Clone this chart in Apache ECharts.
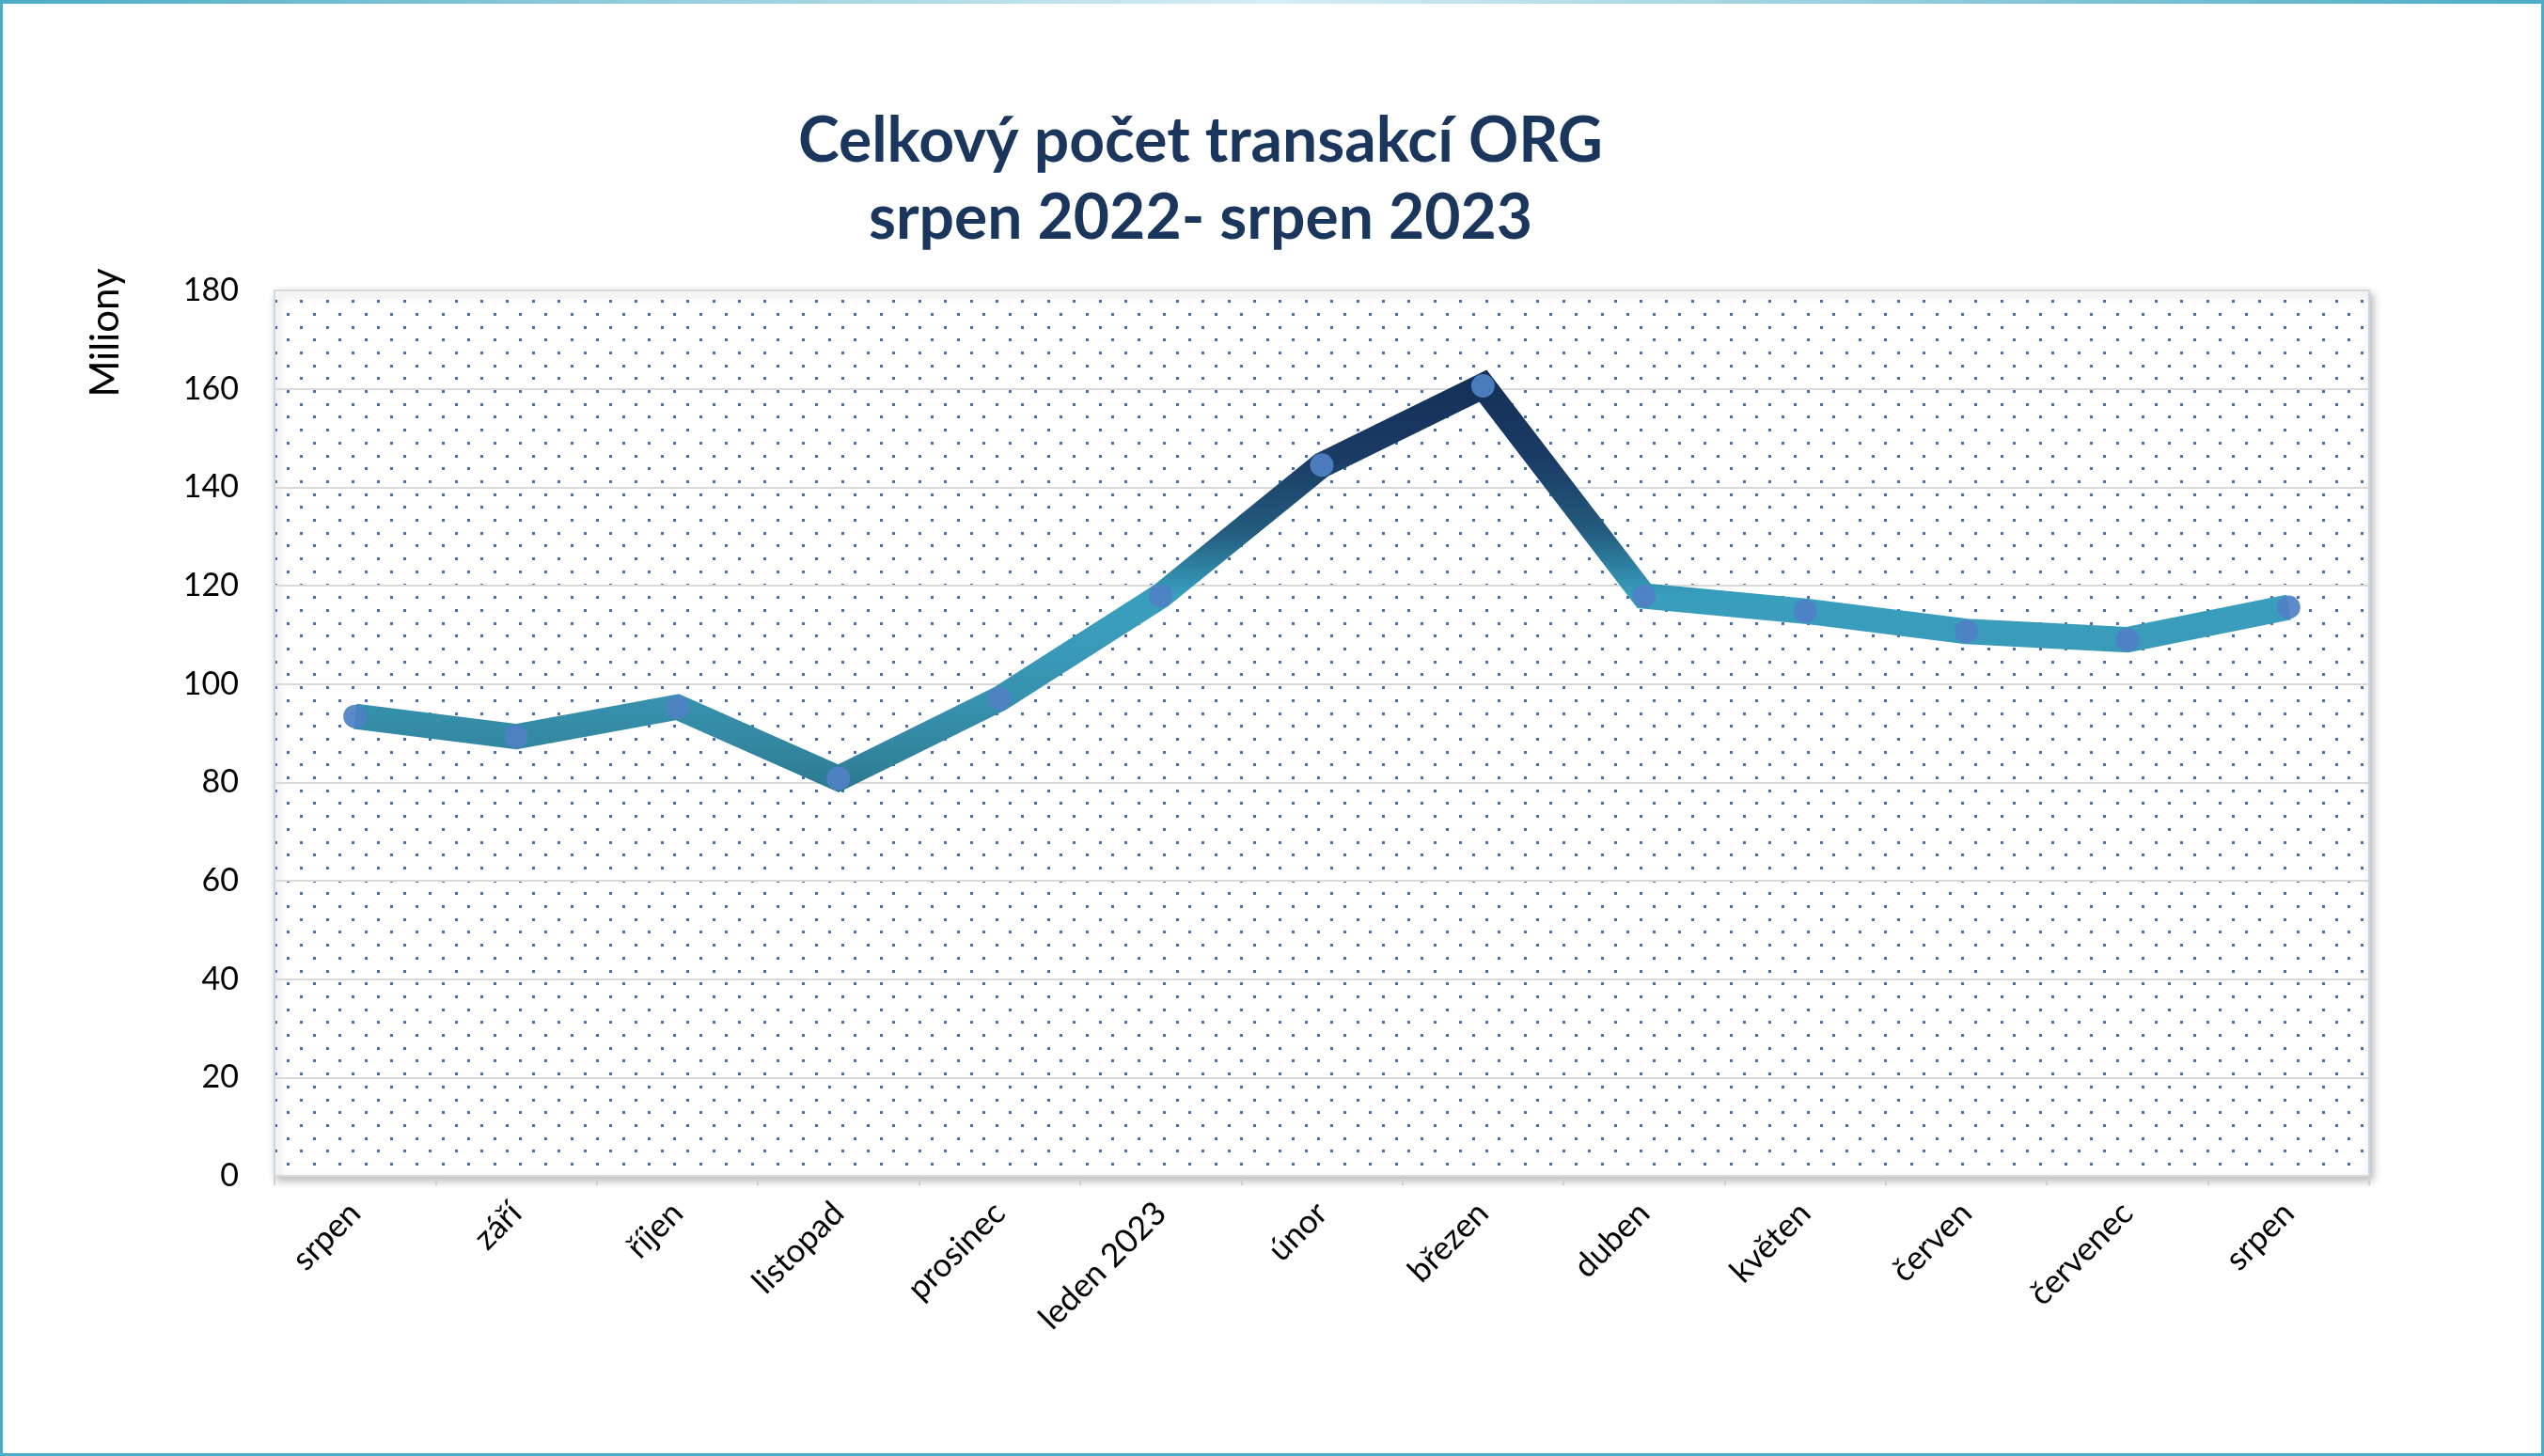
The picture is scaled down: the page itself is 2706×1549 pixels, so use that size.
<!DOCTYPE html>
<html>
<head>
<meta charset="utf-8">
<style>
html,body{margin:0;padding:0;background:#fff;}
#chart{width:2706px;height:1549px;}
</style>
<script src="https://cdn.jsdelivr.net/npm/echarts@6/dist/echarts.min.js"></script>
</head>
<body>
<div id="chart"></div>
<script>
const titleLine1 = 'Celkový počet transakcí ORG';
const titleLine2 = 'srpen 2022- srpen 2023';
const axisName = 'Miliony';
const categories = ['srpen','září','říjen','listopad','prosinec','leden 2023','únor','březen','duben','květen','červen','červenec','srpen'];
const values = [93.4, 89.3, 95.3, 80.8, 97.0, 117.9, 144.5, 160.6, 117.9, 114.8, 110.7, 109.0, 115.6];
const yTicks = [0, 20, 40, 60, 80, 100, 120, 140, 160, 180];

// dotted background tile
const tile = document.createElement('canvas');
tile.width = 137; tile.height = 137;
const tc = tile.getContext('2d');
tc.fillStyle = '#ffffff';
tc.fillRect(0, 0, 137, 137);
tc.fillStyle = '#4a6ea8';
for (let r = 0; r < 10; r++) {
  const y = Math.round(r * 13.7 + 4);
  for (let i = 0; i < 5; i++) {
    const x = Math.round(i * 27.4 + (r % 2 ? 13.7 : 0) + 4);
    tc.fillRect(x, y, 3, 3);
  }
}

const chart = echarts.init(document.getElementById('chart'), null, {renderer: 'canvas'});
const font = 'Lato, "Open Sans", sans-serif';
const option = {
  backgroundColor: '#ffffff',
  animation: false,
  grid: {
    left: 292, right: 186, top: 309, bottom: 298,
    show: true,
    backgroundColor: {image: tile, repeat: 'repeat'},
    borderColor: '#c9d7ea',
    borderWidth: 2,
    shadowColor: 'rgba(0,0,0,0.28)',
    shadowBlur: 10,
    shadowOffsetX: 3,
    shadowOffsetY: 4
  },
  xAxis: {
    type: 'category',
    data: categories,
    boundaryGap: true,
    axisLine: {show: true, lineStyle: {color: '#d9d9d9', width: 2}},
    axisTick: {show: true, length: 10, lineStyle: {color: '#d0d0d0', width: 2}},
    axisLabel: {rotate: 45, margin: 34, fontSize: 35, color: '#000', fontFamily: font, interval: 0}
  },
  yAxis: {
    type: 'value',
    min: yTicks[0], max: yTicks[yTicks.length - 1], interval: 20,
    axisLine: {show: false},
    axisTick: {show: false},
    axisLabel: {margin: 38, fontSize: 34, color: '#000', fontFamily: font},
    splitLine: {show: true, lineStyle: {color: '#d9d9d9', width: 2}}
  },
  series: [{
    type: 'line',
    data: values,
    symbol: 'circle',
    symbolSize: 25,
    itemStyle: {color: 'rgba(79,129,196,0.92)'},
    lineStyle: {
      width: 27,
      join: 'miter',
      cap: 'butt',
      color: new echarts.graphic.LinearGradient(0, 0, 0, 1, [
        {offset: 0, color: '#142f57'},
        {offset: 0.2, color: '#1a3b64'},
        {offset: 0.38, color: '#235c7e'},
        {offset: 0.53, color: '#389fbd'},
        {offset: 0.65, color: '#3a9bb9'},
        {offset: 0.8, color: '#3690ab'},
        {offset: 0.9, color: '#3386a0'},
        {offset: 1, color: '#2c7890'}
      ])
    },
    z: 3
  }],
  graphic: [
    {
      type: 'rect', silent: true, z: 100,
      shape: {x: 0, y: 0, width: 2706, height: 1549},
      style: {fill: 'none', stroke: '#4bacc6', lineWidth: 6}
    },
    {
      type: 'rect', silent: true, z: 101,
      shape: {x: 0, y: 0, width: 2706, height: 4},
      style: {fill: new echarts.graphic.LinearGradient(0, 0, 1, 0, [
        {offset: 0, color: '#4bacc6'},
        {offset: 0.5, color: '#d6edf3'},
        {offset: 1, color: '#4bacc6'}
      ])}
    },
    {
      type: 'text', silent: true, z: 50,
      x: 1277, y: 151,
      style: {text: titleLine1, textAlign: 'center', textVerticalAlign: 'middle',
        font: 'bold 66px ' + font, fill: '#1b365d'}
    },
    {
      type: 'text', silent: true, z: 50,
      x: 1277, y: 233,
      style: {text: titleLine2, textAlign: 'center', textVerticalAlign: 'middle',
        font: 'bold 66px ' + font, fill: '#1b365d'}
    },
    {
      type: 'text', silent: true, z: 50,
      x: 112, y: 354, rotation: Math.PI / 2,
      style: {text: axisName, textAlign: 'center', textVerticalAlign: 'middle',
        font: '42px ' + font, fill: '#000'}
    }
  ]
};
chart.setOption(option);
</script>
</body>
</html>
